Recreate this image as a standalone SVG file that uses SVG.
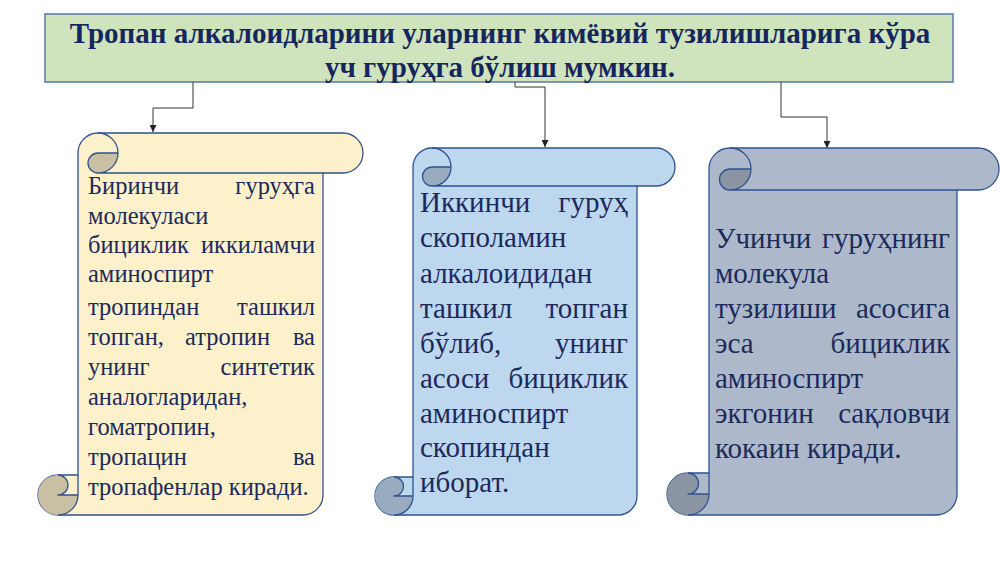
<svg xmlns="http://www.w3.org/2000/svg" width="1000" height="562" viewBox="0 0 1000 562">
<defs>
<marker id="arr" viewBox="0 0 10 10" refX="10" refY="5" markerWidth="7" markerHeight="7" markerUnits="userSpaceOnUse" orient="auto">
<path d="M0,0 L10,5 L0,10 Z" fill="#222"/>
</marker>
<style>
.title{font-family:"Liberation Serif","Times New Roman",serif;font-weight:bold;font-size:29px;fill:#15265c}
.t1{font-family:"Liberation Serif","Times New Roman",serif;font-size:24.5px;fill:#1b2a5a}
.t2{font-family:"Liberation Serif","Times New Roman",serif;font-size:29px;fill:#1b2a5a}
.e{text-anchor:end}
.ol{stroke:#2f528f;stroke-width:1.3;stroke-linejoin:round}
.ln{fill:none;stroke:#2f528f;stroke-width:1.3;stroke-linejoin:round}
.conn{fill:none;stroke:#333;stroke-width:1}
</style>
</defs>
<rect width="1000" height="562" fill="#ffffff"/>

<g id="title">
<rect x="45" y="14" width="908" height="68" fill="#cfe4bc" stroke="#5877a8" stroke-width="1.5"/>
<text class="title" x="500" y="43" text-anchor="middle">Тропан алкалоидларини уларнинг кимёвий тузилишларига кўра</text>
<text class="title" x="500" y="77" text-anchor="middle">уч гуруҳга бўлиш мумкин.</text>
</g>

<g id="connectors">
<path class="conn" d="M193,82 V108 H153 V132" marker-end="url(#arr)"/>
<path class="conn" d="M515,82 V87 H545 V147" marker-end="url(#arr)"/>
<path class="conn" d="M781,82 V117 H827 V148" marker-end="url(#arr)"/>
</g>

<g id="scroll1">
<g transform="translate(38,133)">
<path class="ol" fill="#fdf1cc" d="M40,342 L40,20 A20,20 0 0 1 60,0 L305,0 A20,20 0 0 1 305,40 L285,40 L285,362 A20,20 0 0 1 265,382 L20,382 A20,20 0 0 1 20,342 Z"/>
<path fill="#c9bfa2" d="M80,20 A20,20 0 0 1 60,40 A10,10 0 0 1 60,20 Z M40,362 A20,20 0 1 1 20,342 A10,10 0 0 1 20,362 Z"/>
<path class="ln" d="M60,0 A20,20 0 0 1 60,40 A10,10 0 0 1 60,20 L80,20 M285,40 L60,40 M20,342 A10,10 0 0 1 20,362 L40,362 M20,382 A20,20 0 0 0 40,362 L40,342"/>
</g>
<text class="t1" x="88" y="194">Биринчи</text><text class="t1 e" x="315" y="194">гуруҳга</text>
<text class="t1" x="88" y="224">молекуласи</text>
<text class="t1" x="88" y="253">бициклик</text><text class="t1 e" x="315" y="253">иккиламчи</text>
<text class="t1" x="88" y="282">аминоспирт</text>
<text class="t1" x="88" y="315">тропиндан</text><text class="t1 e" x="315" y="315">ташкил</text>
<text class="t1" x="88" y="345">топган,</text><text class="t1" x="185" y="345">атропин</text><text class="t1 e" x="315" y="345">ва</text>
<text class="t1" x="88" y="375">унинг</text><text class="t1 e" x="315" y="375">синтетик</text>
<text class="t1" x="88" y="405">аналогларидан,</text>
<text class="t1" x="88" y="435">гоматропин,</text>
<text class="t1" x="88" y="465">тропацин</text><text class="t1 e" x="315" y="465">ва</text>
<text class="t1" x="88" y="495">тропафенлар киради.</text>
</g>

<g id="scroll2">
<g transform="translate(375,148)">
<path class="ol" fill="#bdd7ee" d="M38,329 L38,19 A19,19 0 0 1 57,0 L281,0 A19,19 0 0 1 281,38 L262,38 L262,348 A19,19 0 0 1 243,367 L19,367 A19,19 0 0 1 19,329 Z"/>
<path fill="#97acbe" d="M76,19 A19,19 0 0 1 57,38 A9.5,9.5 0 0 1 57,19 Z M38,348 A19,19 0 1 1 19,329 A9.5,9.5 0 0 1 19,348 Z"/>
<path class="ln" d="M57,0 A19,19 0 0 1 57,38 A9.5,9.5 0 0 1 57,19 L76,19 M262,38 L57,38 M19,329 A9.5,9.5 0 0 1 19,348 L38,348 M19,367 A19,19 0 0 0 38,348 L38,329"/>
</g>
<text class="t2" x="420" y="212">Иккинчи</text><text class="t2 e" x="628" y="212">гуруҳ</text>
<text class="t2" x="420" y="247">скополамин</text>
<text class="t2" x="420" y="283">алкалоидидан</text>
<text class="t2" x="420" y="318">ташкил</text><text class="t2 e" x="628" y="318">топган</text>
<text class="t2" x="420" y="353">бўлиб,</text><text class="t2 e" x="628" y="353">унинг</text>
<text class="t2" x="420" y="388">асоси</text><text class="t2 e" x="628" y="388">бициклик</text>
<text class="t2" x="420" y="423">аминоспирт</text>
<text class="t2" x="420" y="457">скопиндан</text>
<text class="t2" x="420" y="492">иборат.</text>
</g>

<g id="scroll3">
<g transform="translate(667,148)">
<path class="ol" fill="#adb9ca" d="M42,325 L42,21 A21,21 0 0 1 63,0 L311,0 A21,21 0 0 1 311,42 L290,42 L290,346 A21,21 0 0 1 269,367 L21,367 A21,21 0 0 1 21,325 Z"/>
<path fill="#8a94a2" d="M84,21 A21,21 0 0 1 63,42 A10.5,10.5 0 0 1 63,21 Z M42,346 A21,21 0 1 1 21,325 A10.5,10.5 0 0 1 21,346 Z"/>
<path class="ln" d="M63,0 A21,21 0 0 1 63,42 A10.5,10.5 0 0 1 63,21 L84,21 M290,42 L63,42 M21,325 A10.5,10.5 0 0 1 21,346 L42,346 M21,367 A21,21 0 0 0 42,346 L42,325"/>
</g>
<text class="t2" x="715" y="248">Учинчи</text><text class="t2 e" x="950" y="248">гуруҳнинг</text>
<text class="t2" x="715" y="283">молекула</text>
<text class="t2" x="715" y="318">тузилиши</text><text class="t2 e" x="950" y="318">асосига</text>
<text class="t2" x="715" y="353">эса</text><text class="t2 e" x="950" y="353">бициклик</text>
<text class="t2" x="715" y="388">аминоспирт</text>
<text class="t2" x="715" y="423">экгонин</text><text class="t2 e" x="950" y="423">сақловчи</text>
<text class="t2" x="715" y="458">кокаин киради.</text>
</g>
</svg>
